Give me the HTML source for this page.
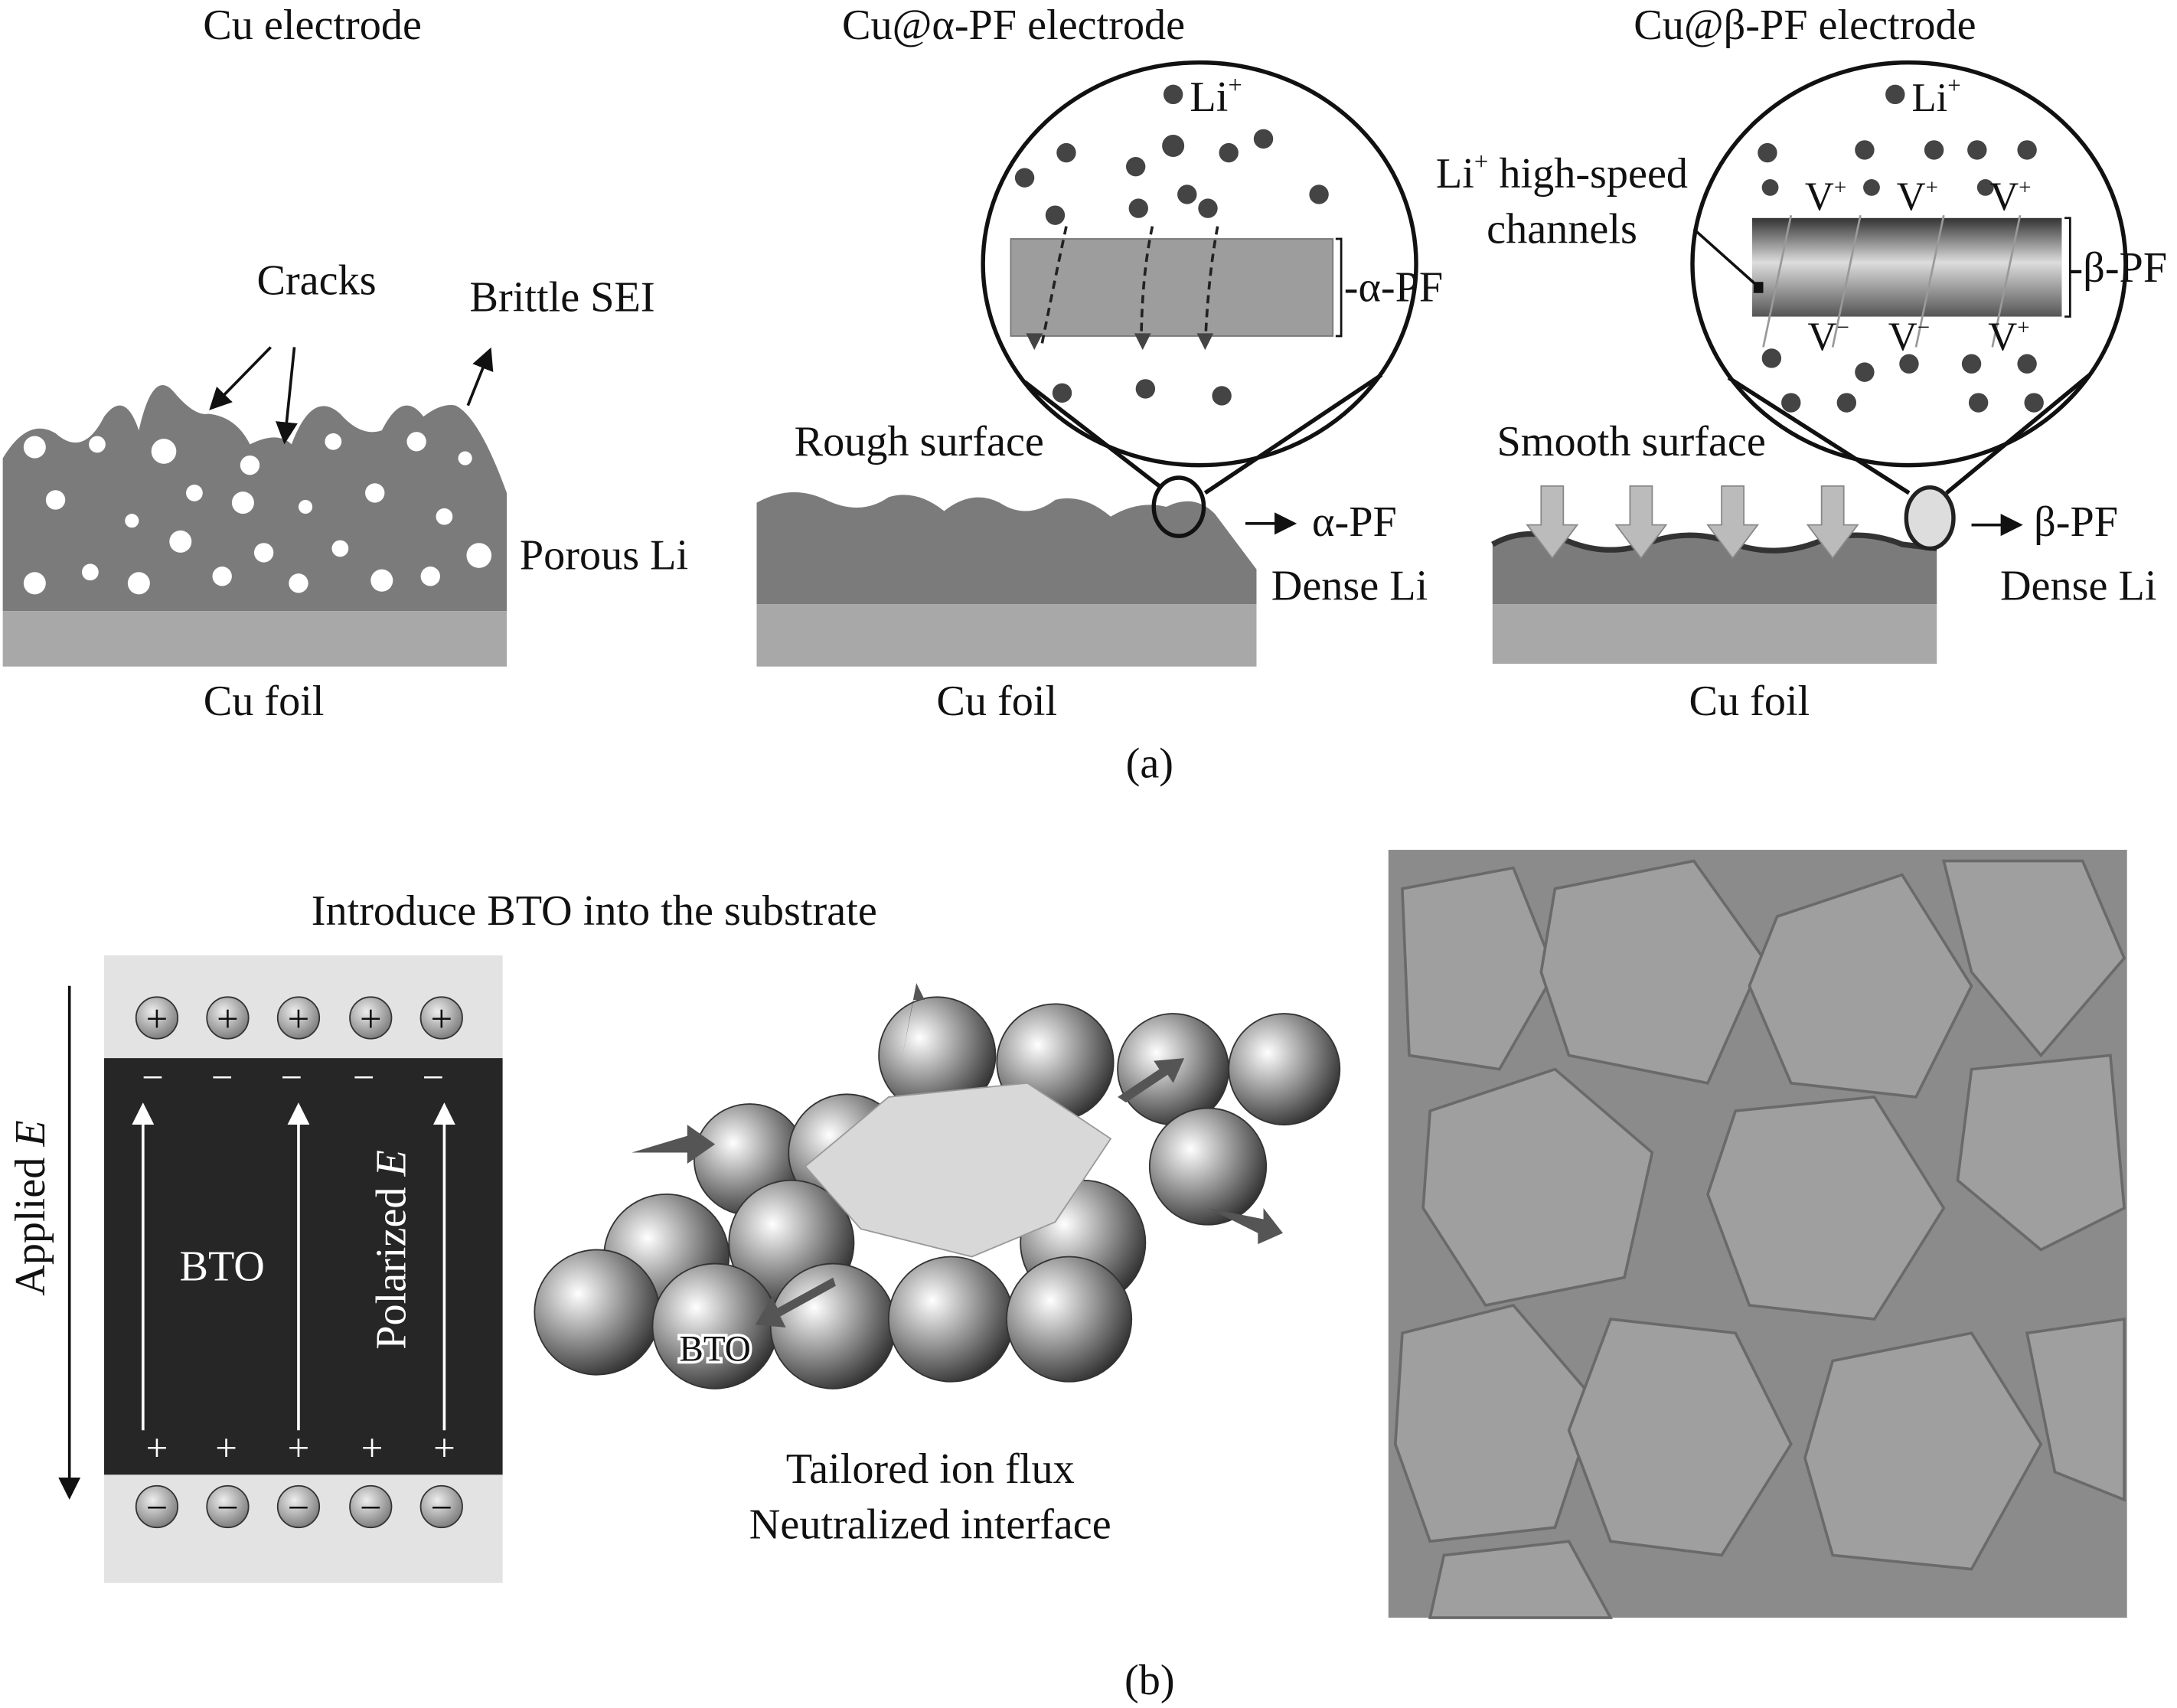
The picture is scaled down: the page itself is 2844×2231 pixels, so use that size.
<!DOCTYPE html>
<html><head><meta charset="utf-8"><style>
html,body{margin:0;padding:0;background:#fff}
svg{display:block}
text{font-family:"Liberation Serif",serif;fill:#111}
</style></head><body>
<svg width="2844" height="2231" viewBox="0 0 1568 1230" xmlns="http://www.w3.org/2000/svg">
<defs>
<linearGradient id="bpf" x1="0" y1="0" x2="0" y2="1"><stop offset="0" stop-color="#333"/><stop offset="0.45" stop-color="#ddd"/><stop offset="1" stop-color="#555"/></linearGradient>
<radialGradient id="sph" cx="0.35" cy="0.35" r="0.7"><stop offset="0" stop-color="#fff"/><stop offset="0.5" stop-color="#999"/><stop offset="1" stop-color="#333"/></radialGradient>
<radialGradient id="ball" cx="0.4" cy="0.35" r="0.7"><stop offset="0" stop-color="#eee"/><stop offset="1" stop-color="#777"/></radialGradient>
<marker id="ah" markerWidth="8" markerHeight="8" refX="7" refY="4" orient="auto"><path d="M0,0 L8,4 L0,8 z" fill="#111"/></marker>
<marker id="wh" markerWidth="8" markerHeight="8" refX="7" refY="4" orient="auto"><path d="M0,0 L8,4 L0,8 z" fill="#fff"/></marker>
</defs>
<g font-size="31" text-anchor="middle">
<text x="225" y="28">Cu electrode</text>
<text x="730" y="28">Cu@α-PF electrode</text>
<text x="1300" y="28">Cu@β-PF electrode</text>
</g>
<!-- left panel -->
<path d="M2,440 L2,330 Q20,300 40,312 Q60,330 75,300 Q90,280 100,310 Q110,265 125,282 Q140,300 150,298 Q170,300 180,320 Q200,310 210,320 Q225,280 245,298 Q260,315 275,310 Q290,280 305,300 Q318,290 328,292 Q345,300 365,355 L365,440 Z" fill="#7b7b7b"/>
<rect x="2" y="440" width="363" height="40" fill="#a8a8a8"/>
<g fill="#fff">
<circle cx="25" cy="322" r="8"/><circle cx="70" cy="320" r="6"/><circle cx="118" cy="325" r="9"/><circle cx="180" cy="335" r="7"/><circle cx="240" cy="318" r="6"/><circle cx="300" cy="318" r="7"/><circle cx="335" cy="330" r="5"/>
<circle cx="40" cy="360" r="7"/><circle cx="95" cy="375" r="5"/><circle cx="140" cy="355" r="6"/><circle cx="175" cy="362" r="8"/><circle cx="220" cy="365" r="5"/><circle cx="270" cy="355" r="7"/><circle cx="320" cy="372" r="6"/>
<circle cx="25" cy="420" r="8"/><circle cx="65" cy="412" r="6"/><circle cx="100" cy="420" r="8"/><circle cx="130" cy="390" r="8"/><circle cx="160" cy="415" r="7"/><circle cx="190" cy="398" r="7"/><circle cx="215" cy="420" r="7"/><circle cx="245" cy="395" r="6"/><circle cx="275" cy="418" r="8"/><circle cx="310" cy="415" r="7"/><circle cx="345" cy="400" r="9"/>
</g>
<g stroke="#111" stroke-width="2" fill="none">
<line x1="195" y1="250" x2="152" y2="294" marker-end="url(#ah)"/>
<line x1="212" y1="250" x2="205" y2="318" marker-end="url(#ah)"/>
<line x1="337" y1="292" x2="353" y2="252" marker-end="url(#ah)"/>
</g>
<g font-size="31"><text x="228" y="212" text-anchor="middle">Cracks</text><text x="405" y="224" text-anchor="middle">Brittle SEI</text>
<text x="435" y="410" text-anchor="middle">Porous Li</text><text x="190" y="515" text-anchor="middle">Cu foil</text></g>
<!-- middle panel -->
<path d="M545,435 L545,362 Q570,348 595,360 Q620,372 640,358 Q660,352 680,368 Q700,352 720,362 Q740,375 760,360 Q780,355 800,372 Q820,360 840,365 Q860,355 875,370 L905,410 L905,435 Z" fill="#7b7b7b"/>
<rect x="545" y="435" width="360" height="45" fill="#a8a8a8"/>
<ellipse cx="864" cy="190" rx="156" ry="145" fill="#fff" stroke="#111" stroke-width="3"/>
<line x1="738" y1="275" x2="835" y2="350" stroke="#111" stroke-width="3"/><line x1="995" y1="270" x2="868" y2="355" stroke="#111" stroke-width="3"/>
<ellipse cx="849" cy="365" rx="18" ry="21" fill="none" stroke="#111" stroke-width="3"/>
<rect x="728" y="172" width="232" height="70" fill="#9d9d9d" stroke="#777"/>
<path d="M962,172 h4 v70 h-4" fill="none" stroke="#111" stroke-width="1.5"/>
<g stroke="#222" stroke-width="2" stroke-dasharray="6,4" fill="none"><path d="M768,163 Q760,200 750,250"/><path d="M830,163 Q822,200 822,250"/><path d="M877,163 Q870,200 868,250"/></g>
<g fill="#444"><circle cx="845" cy="68" r="7"/><circle cx="738" cy="128" r="7"/><circle cx="768" cy="110" r="7"/><circle cx="818" cy="120" r="7"/><circle cx="845" cy="105" r="8"/><circle cx="885" cy="110" r="7"/><circle cx="910" cy="100" r="7"/><circle cx="950" cy="140" r="7"/><circle cx="760" cy="155" r="7"/><circle cx="820" cy="150" r="7"/><circle cx="855" cy="140" r="7"/><circle cx="870" cy="150" r="7"/><circle cx="765" cy="283" r="7"/><circle cx="825" cy="280" r="7"/><circle cx="880" cy="285" r="7"/>
<path d="M745,252 l6,-12 l-12,0z M823,252 l6,-12 l-12,0z M868,252 l6,-12 l-12,0z"/></g>
<g font-size="31"><text x="857" y="80">Li<tspan font-size="18" dy="-13">+</tspan></text>
<text x="968" y="217">-α-PF</text>
<text x="662" y="328" text-anchor="middle">Rough surface</text>
<text x="945" y="386">α-PF</text><text x="972" y="432" text-anchor="middle">Dense Li</text><text x="718" y="515" text-anchor="middle">Cu foil</text></g>
<line x1="897" y1="377" x2="932" y2="377" stroke="#111" stroke-width="2" marker-end="url(#ah)"/>
<!-- right panel -->
<path d="M1075,435 L1075,392 Q1100,378 1130,390 Q1160,402 1190,390 Q1220,380 1250,392 Q1280,402 1310,390 Q1340,380 1370,392 L1395,395 L1395,435 Z" fill="#7b7b7b"/>
<path d="M1075,392 Q1100,378 1130,390 Q1160,402 1190,390 Q1220,380 1250,392 Q1280,402 1310,390 Q1340,380 1370,392 L1395,395" fill="none" stroke="#333" stroke-width="4"/>
<rect x="1075" y="435" width="320" height="43" fill="#a8a8a8"/>
<g fill="#bbb" stroke="#888"><path d="M1110,350 h16 v28 h10 l-18,24 l-18,-24 h10z"/><path d="M1174,350 h16 v28 h10 l-18,24 l-18,-24 h10z"/><path d="M1240,350 h16 v28 h10 l-18,24 l-18,-24 h10z"/><path d="M1312,350 h16 v28 h10 l-18,24 l-18,-24 h10z"/></g>
<ellipse cx="1375" cy="190" rx="156" ry="145" fill="#fff" stroke="#111" stroke-width="3"/>
<line x1="1245" y1="272" x2="1375" y2="355" stroke="#111" stroke-width="3"/><line x1="1505" y1="270" x2="1402" y2="355" stroke="#111" stroke-width="3"/>
<ellipse cx="1390" cy="373" rx="17" ry="22" fill="#ddd" stroke="#222" stroke-width="3"/>
<rect x="1262" y="157" width="223" height="71" fill="url(#bpf)"/>
<path d="M1487,157 h4 v71 h-4" fill="none" stroke="#111" stroke-width="1.5"/>
<g stroke="#999" stroke-width="1.5"><line x1="1290" y1="155" x2="1270" y2="250"/><line x1="1340" y1="155" x2="1320" y2="250"/><line x1="1400" y1="155" x2="1380" y2="250"/><line x1="1455" y1="155" x2="1435" y2="250"/></g>
<line x1="1220" y1="165" x2="1267" y2="207" stroke="#111" stroke-width="2"/><rect x="1263" y="203" width="7" height="8" fill="#111"/>
<g fill="#444"><circle cx="1365" cy="68" r="7"/><circle cx="1273" cy="110" r="7"/><circle cx="1343" cy="108" r="7"/><circle cx="1393" cy="108" r="7"/><circle cx="1424" cy="108" r="7"/><circle cx="1460" cy="108" r="7"/><circle cx="1275" cy="135" r="6"/><circle cx="1348" cy="135" r="6"/><circle cx="1430" cy="135" r="6"/>
<circle cx="1276" cy="258" r="7"/><circle cx="1343" cy="268" r="7"/><circle cx="1375" cy="262" r="7"/><circle cx="1420" cy="262" r="7"/><circle cx="1460" cy="262" r="7"/><circle cx="1290" cy="290" r="7"/><circle cx="1330" cy="290" r="7"/><circle cx="1425" cy="290" r="7"/><circle cx="1465" cy="290" r="7"/></g>
<g font-size="29"><text x="1377" y="80">Li<tspan font-size="17" dy="-13">+</tspan></text>
<text x="1300" y="151">V<tspan font-size="16" dy="-11">+</tspan></text><text x="1366" y="151">V<tspan font-size="16" dy="-11">+</tspan></text><text x="1433" y="151">V<tspan font-size="16" dy="-11">+</tspan></text>
<text x="1302" y="252">V<tspan font-size="16" dy="-11">−</tspan></text><text x="1360" y="252">V<tspan font-size="16" dy="-11">−</tspan></text><text x="1432" y="252">V<tspan font-size="16" dy="-11">+</tspan></text></g>
<g font-size="31"><text x="1125" y="135" text-anchor="middle">Li<tspan font-size="18" dy="-13">+</tspan><tspan dy="13"> high-speed</tspan></text>
<text x="1125" y="175" text-anchor="middle">channels</text>
<text x="1490" y="203">-β-PF</text>
<text x="1175" y="328" text-anchor="middle">Smooth surface</text>
<text x="1465" y="386">β-PF</text><text x="1497" y="432" text-anchor="middle">Dense Li</text><text x="1260" y="515" text-anchor="middle">Cu foil</text>
<text x="828" y="560" text-anchor="middle">(a)</text></g>
<line x1="1420" y1="378" x2="1455" y2="378" stroke="#111" stroke-width="2" marker-end="url(#ah)"/>
<!-- part b -->
<text x="428" y="666" font-size="31" text-anchor="middle">Introduce BTO into the substrate</text>
<rect x="75" y="688" width="287" height="452" fill="#e3e3e3"/>
<rect x="75" y="762" width="287" height="300" fill="#262626"/>
<g stroke="#333" stroke-width="1"><circle cx="113" cy="733" r="15" fill="url(#ball)"/><circle cx="164" cy="733" r="15" fill="url(#ball)"/><circle cx="215" cy="733" r="15" fill="url(#ball)"/><circle cx="267" cy="733" r="15" fill="url(#ball)"/><circle cx="318" cy="733" r="15" fill="url(#ball)"/>
<circle cx="113" cy="1085" r="15" fill="url(#ball)"/><circle cx="164" cy="1085" r="15" fill="url(#ball)"/><circle cx="215" cy="1085" r="15" fill="url(#ball)"/><circle cx="267" cy="1085" r="15" fill="url(#ball)"/><circle cx="318" cy="1085" r="15" fill="url(#ball)"/></g>
<g font-size="28" text-anchor="middle"><text x="113" y="743">+</text><text x="164" y="743">+</text><text x="215" y="743">+</text><text x="267" y="743">+</text><text x="318" y="743">+</text>
<text x="113" y="1095">−</text><text x="164" y="1095">−</text><text x="215" y="1095">−</text><text x="267" y="1095">−</text><text x="318" y="1095">−</text></g>
<g font-size="28" text-anchor="middle"><text x="110" y="785" style="fill:#fff">−</text><text x="160" y="785" style="fill:#fff">−</text><text x="210" y="785" style="fill:#fff">−</text><text x="262" y="785" style="fill:#fff">−</text><text x="312" y="785" style="fill:#fff">−</text>
<text x="113" y="1052" style="fill:#fff">+</text><text x="163" y="1052" style="fill:#fff">+</text><text x="215" y="1052" style="fill:#fff">+</text><text x="268" y="1052" style="fill:#fff">+</text><text x="320" y="1052" style="fill:#fff">+</text>
<text x="160" y="922" font-size="31" style="fill:#fff">BTO</text>
<text x="292" y="900" font-size="31" transform="rotate(-90 292 900)" style="fill:#fff">Polarized <tspan font-style="italic" style="fill:#fff">E</tspan></text></g>
<g stroke="#fff" stroke-width="2"><line x1="103" y1="1030" x2="103" y2="796" marker-end="url(#wh)"/><line x1="215" y1="1030" x2="215" y2="796" marker-end="url(#wh)"/><line x1="320" y1="1030" x2="320" y2="796" marker-end="url(#wh)"/></g>
<line x1="50" y1="710" x2="50" y2="1078" stroke="#111" stroke-width="2" marker-end="url(#ah)"/>
<text x="32" y="870" font-size="31" text-anchor="middle" transform="rotate(-90 32 870)">Applied <tspan font-style="italic">E</tspan></text>
<!-- spheres -->
<g stroke="#333" stroke-width="1">
<circle cx="540" cy="835" r="40" fill="url(#sph)"/><circle cx="675" cy="760" r="42" fill="url(#sph)"/><circle cx="760" cy="765" r="42" fill="url(#sph)"/><circle cx="845" cy="770" r="40" fill="url(#sph)"/><circle cx="925" cy="770" r="40" fill="url(#sph)"/>
<circle cx="610" cy="830" r="42" fill="url(#sph)"/><circle cx="870" cy="840" r="42" fill="url(#sph)"/>
<circle cx="480" cy="905" r="45" fill="url(#sph)"/><circle cx="570" cy="895" r="45" fill="url(#sph)"/><circle cx="780" cy="895" r="45" fill="url(#sph)"/>
<circle cx="430" cy="945" r="45" fill="url(#sph)"/><circle cx="515" cy="955" r="45" fill="url(#sph)"/><circle cx="600" cy="955" r="45" fill="url(#sph)"/><circle cx="685" cy="950" r="45" fill="url(#sph)"/><circle cx="770" cy="950" r="45" fill="url(#sph)"/>
<path d="M580,840 L640,790 L740,780 L800,820 L760,880 L700,905 L620,885 Z" fill="#d8d8d8" stroke="#999"/>
</g>
<g fill="#555"><path d="M455,830 l40,-12 l0,-8 l20,14 l-20,14 l0,-8z"/><path d="M650,760 l8,-40 l8,0 l-6,-12"/><path d="M870,870 l40,8 l0,-8 l14,18 l-18,8 l0,-8z"/><path d="M600,920 l-40,22 l-4,-8 l-12,20 l22,2 l-4,-8 l40,-22z"/><path d="M805,790 l30,-20 l-4,-6 l22,-2 l-8,18 l-4,-6 l-30,20z"/></g>
<text x="515" y="980" font-size="26" text-anchor="middle" stroke="#fff" stroke-width="4" paint-order="stroke">BTO</text>
<g font-size="31" text-anchor="middle"><text x="670" y="1068">Tailored ion flux</text><text x="670" y="1108">Neutralized interface</text></g>
<!-- SEM -->
<rect x="1000" y="612" width="532" height="553" fill="#8b8b8b"/>
<g fill="#9f9f9f" stroke="#6a6a6a" stroke-width="2">
<path d="M1010,640 L1090,625 L1120,700 L1080,770 L1015,760 Z"/>
<path d="M1120,640 L1220,620 L1270,690 L1230,780 L1130,760 L1110,700 Z"/>
<path d="M1280,660 L1370,630 L1420,710 L1380,790 L1290,780 L1260,710 Z"/>
<path d="M1400,620 L1500,620 L1530,690 L1470,760 L1420,700 Z"/>
<path d="M1030,800 L1120,770 L1190,830 L1170,920 L1070,940 L1025,870 Z"/>
<path d="M1250,800 L1350,790 L1400,870 L1350,950 L1260,940 L1230,860 Z"/>
<path d="M1420,770 L1520,760 L1530,870 L1470,900 L1410,850 Z"/>
<path d="M1010,960 L1090,940 L1150,1010 L1120,1100 L1030,1110 L1005,1040 Z"/>
<path d="M1160,950 L1250,960 L1290,1040 L1240,1120 L1160,1110 L1130,1030 Z"/>
<path d="M1320,980 L1420,960 L1470,1040 L1420,1130 L1320,1120 L1300,1050 Z"/>
<path d="M1460,960 L1530,950 L1530,1080 L1480,1060 Z"/>
<path d="M1040,1120 L1130,1110 L1160,1165 L1030,1165 Z"/>
</g>
<text x="828" y="1220" font-size="31" text-anchor="middle">(b)</text>
</svg>
</body></html>
